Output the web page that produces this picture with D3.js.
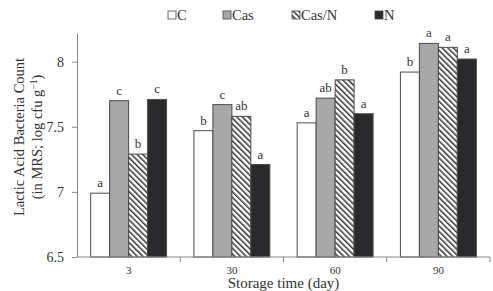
<!DOCTYPE html>
<html>
<head>
<meta charset="utf-8">
<script src="https://cdn.jsdelivr.net/npm/d3@7"></script>
<style>
  body { margin: 0; background: #fff; }
  svg { display: block; }
  svg text { font-family: "Liberation Serif", "Times New Roman", serif; }
</style>
</head>
<body>
<div id="chart"></div>
<script>
const days = ["3", "30", "60", "90"];
const groups = ["C", "Cas", "Cas/N", "N"];
const valuesC = [6.99, 7.47, 7.53, 7.92];
const valuesCas = [7.70, 7.67, 7.72, 8.14];
const valuesCasN = [7.29, 7.58, 7.86, 8.11];
const valuesN = [7.71, 7.21, 7.60, 8.02];
const lettersC = ["a", "b", "a", "b"];
const lettersCas = ["c", "c", "ab", "a"];
const lettersCasN = ["b", "ab", "b", "a"];
const lettersN = ["c", "a", "a", "a"];
const yTicks = [6.5, 7, 7.5, 8];

const width = 493;
const height = 291;
const margin = { top: 33, right: 3, bottom: 34, left: 77 };

const series = [valuesC, valuesCas, valuesCasN, valuesN];
const letters = [lettersC, lettersCas, lettersCasN, lettersN];

const data = [];
days.forEach((day, i) => {
  groups.forEach((g, j) => {
    data.push({ day, group: g, value: series[j][i], letter: letters[j][i] });
  });
});

const svg = d3.select("#chart")
  .append("svg")
  .attr("width", width)
  .attr("height", height);

// hatch pattern for Cas/N
const defs = svg.append("defs");
defs.append("pattern")
  .attr("id", "hatch")
  .attr("patternUnits", "userSpaceOnUse")
  .attr("width", 4)
  .attr("height", 4)
  .attr("patternTransform", "rotate(-45)")
  .call((p) => {
    p.append("rect").attr("width", 4).attr("height", 4).attr("fill", "#fff");
    p.append("rect").attr("width", 1.5).attr("height", 4).attr("fill", "#333");
  });

const fill = d3.scaleOrdinal()
  .domain(groups)
  .range(["#ffffff", "#a8a8a8", "url(#hatch)", "#2a2a2d"]);

const x = d3.scaleBand()
  .domain(days)
  .range([margin.left, width - margin.right]);

const x1 = d3.scaleBand()
  .domain(groups)
  .range([0, x.bandwidth()])
  .paddingInner(0)
  .paddingOuter(0.72);

const y = d3.scaleLinear()
  .domain([6.5, 8.22])
  .range([height - margin.bottom, margin.top]);

// bars
const bar = svg.append("g")
  .selectAll("g")
  .data(data)
  .join("g")
  .attr("transform", (d) => `translate(${x(d.day) + x1(d.group)},0)`);

bar.append("rect")
  .attr("x", 0)
  .attr("y", (d) => y(d.value))
  .attr("width", x1.bandwidth())
  .attr("height", (d) => y(6.5) - y(d.value))
  .attr("fill", (d) => fill(d.group))
  .attr("stroke", "#4a4a4a")
  .attr("stroke-width", 1);

bar.append("text")
  .attr("x", x1.bandwidth() / 2)
  .attr("y", (d) => y(d.value) - 6)
  .attr("text-anchor", "middle")
  .attr("font-size", 13)
  .attr("fill", "#333")
  .text((d) => d.letter);

// y axis
const yAxis = svg.append("g")
  .attr("transform", `translate(${margin.left},0)`)
  .call(d3.axisLeft(y).tickValues(yTicks).tickSize(5).tickSizeOuter(0)
    .tickFormat((d) => String(d)));
yAxis.attr("font-family", null);
yAxis.select(".domain").attr("stroke", "#888");
yAxis.selectAll(".tick line").attr("stroke", "#888");
yAxis.selectAll(".tick text")
  .attr("font-size", 14)
  .attr("fill", "#333")
  .attr("x", -13);

// x axis: ticks at the band boundaries
const xAxisG = svg.append("g")
  .attr("transform", `translate(0,${height - margin.bottom})`);
xAxisG.append("line")
  .attr("x1", x.range()[0])
  .attr("x2", x.range()[1])
  .attr("stroke", "#888");
xAxisG.selectAll(".tk")
  .data(days)
  .join("line")
  .attr("x1", (d) => x(d) + x.bandwidth())
  .attr("x2", (d) => x(d) + x.bandwidth())
  .attr("y1", 0)
  .attr("y2", 5)
  .attr("stroke", "#888");
xAxisG.selectAll("text")
  .data(days)
  .join("text")
  .attr("x", (d) => x(d) + x.bandwidth() / 2)
  .attr("y", 17)
  .attr("text-anchor", "middle")
  .attr("font-size", 11)
  .attr("fill", "#333")
  .text((d) => d);

// axis titles
svg.append("text")
  .attr("x", (x.range()[0] + x.range()[1]) / 2)
  .attr("y", 288)
  .attr("text-anchor", "middle")
  .attr("font-size", 15)
  .attr("fill", "#333")
  .text("Storage time (day)");

const yTitle = svg.append("text")
  .attr("transform", "translate(0,137) rotate(-90)")
  .attr("text-anchor", "middle")
  .attr("font-size", 14.5)
  .attr("fill", "#333");
yTitle.append("tspan")
  .attr("x", 0)
  .attr("y", 24)
  .text("Lactic Acid Bacteria Count");
const line2 = yTitle.append("tspan")
  .attr("x", 0)
  .attr("y", 42);
line2.append("tspan").text("(in MRS; log cfu g");
line2.append("tspan")
  .attr("dy", -5)
  .attr("font-size", 9.5)
  .text("−1");
line2.append("tspan")
  .attr("dy", 5)
  .text(")");

// legend
const legendX = [168, 223, 292, 375];
const legend = svg.append("g")
  .selectAll("g")
  .data(groups)
  .join("g")
  .attr("transform", (d, i) => `translate(${legendX[i]},11)`);
legend.append("rect")
  .attr("width", 8)
  .attr("height", 8)
  .attr("fill", (d) => fill(d))
  .attr("stroke", "#444")
  .attr("stroke-width", 0.8);
legend.append("text")
  .attr("x", 9)
  .attr("y", 9)
  .attr("font-size", 14.5)
  .attr("fill", "#333")
  .text((d) => d);
</script>
</body>
</html>
